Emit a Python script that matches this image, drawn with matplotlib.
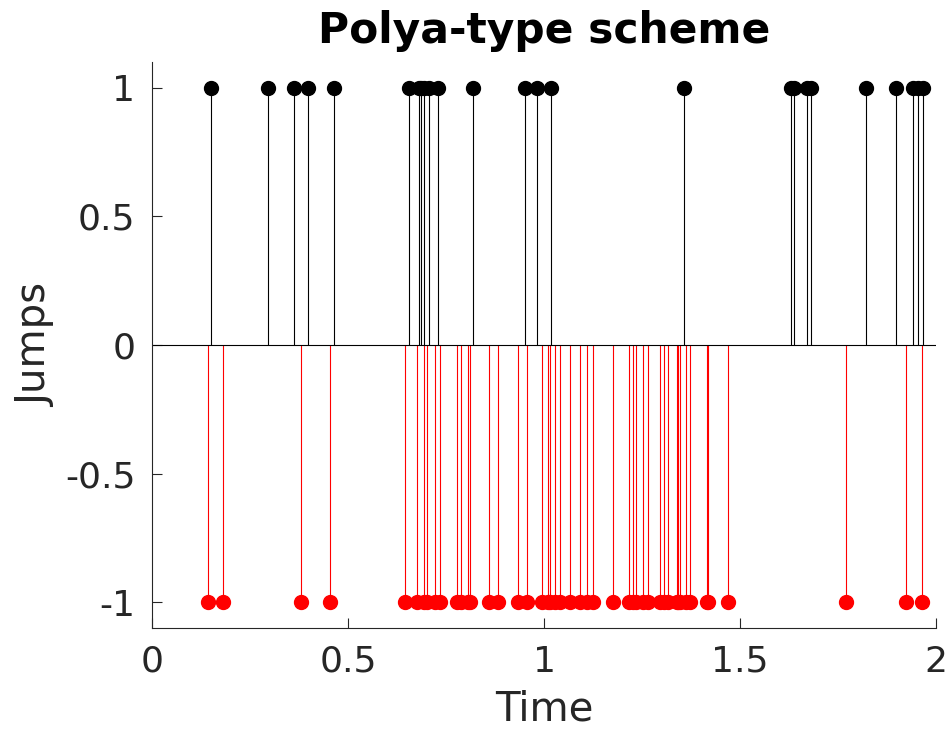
import matplotlib
matplotlib.use("Agg")
import matplotlib.pyplot as plt

plt.rcParams['font.family'] = ['DejaVu Sans']
plt.rcParams['axes.unicode_minus'] = False

up_times = [0.150, 0.297, 0.363, 0.397, 0.463, 0.656, 0.680, 0.686, 0.693, 0.707,
            0.729, 0.820, 0.952, 0.981, 1.019, 1.358, 1.629, 1.638, 1.670, 1.680,
            1.821, 1.898, 1.942, 1.953, 1.966]
down_times = [0.143, 0.182, 0.380, 0.455, 0.646, 0.675, 0.695, 0.701, 0.721, 0.735,
              0.778, 0.788, 0.806, 0.811, 0.859, 0.883, 0.933, 0.957, 0.995, 1.009,
              1.014, 1.028, 1.041, 1.067, 1.092, 1.110, 1.125, 1.175, 1.218, 1.226,
              1.235, 1.253, 1.265, 1.296, 1.306, 1.316, 1.339, 1.342, 1.346, 1.362,
              1.372, 1.416, 1.419, 1.469, 1.770, 1.923, 1.963]
up_value = 1
down_value = -1
xticks = [0, 0.5, 1, 1.5, 2]
xticklabels = ["0", "0.5", "1", "1.5", "2"]
yticks = [-1, -0.5, 0, 0.5, 1]
yticklabels = ["-1", "-0.5", "0", "0.5", "1"]

fig = plt.figure(figsize=(9.5, 7.3), dpi=100)
ax = fig.add_axes([0.16, 0.1397, 0.8253, 0.7753])

ax.vlines(up_times, 0, up_value, colors='black', linewidth=0.8)
ax.plot(up_times, [up_value] * len(up_times), 'o', color='black', markersize=10, clip_on=False)
ax.vlines(down_times, 0, down_value, colors='red', linewidth=0.8)
ax.plot(down_times, [down_value] * len(down_times), 'o', color='red', markersize=10, clip_on=False)
ax.axhline(0, color='black', linewidth=0.8)

ax.set_xlim(0, 2)
ax.set_ylim(-1.1, 1.1)
ax.set_xticks(xticks)
ax.set_xticklabels(xticklabels)
ax.set_yticks(yticks)
ax.set_yticklabels(yticklabels)

dark = '#262626'
for s in ['top', 'right']:
    ax.spines[s].set_visible(False)
for s in ['left', 'bottom']:
    ax.spines[s].set_color(dark)
    ax.spines[s].set_linewidth(0.8)
ax.tick_params(direction='in', length=7, width=0.8, colors=dark, labelsize=26)
ax.tick_params(axis='x', pad=12)
ax.tick_params(axis='y', pad=12)

ax.set_xlabel('Time', fontsize=29, color=dark, labelpad=8)
ax.set_ylabel('Jumps', fontsize=29, color=dark, labelpad=6)
ax.set_title('Polya-type scheme', fontsize=30.5, fontweight='bold', color='black', pad=14)

fig.savefig('out.png', dpi=100)
